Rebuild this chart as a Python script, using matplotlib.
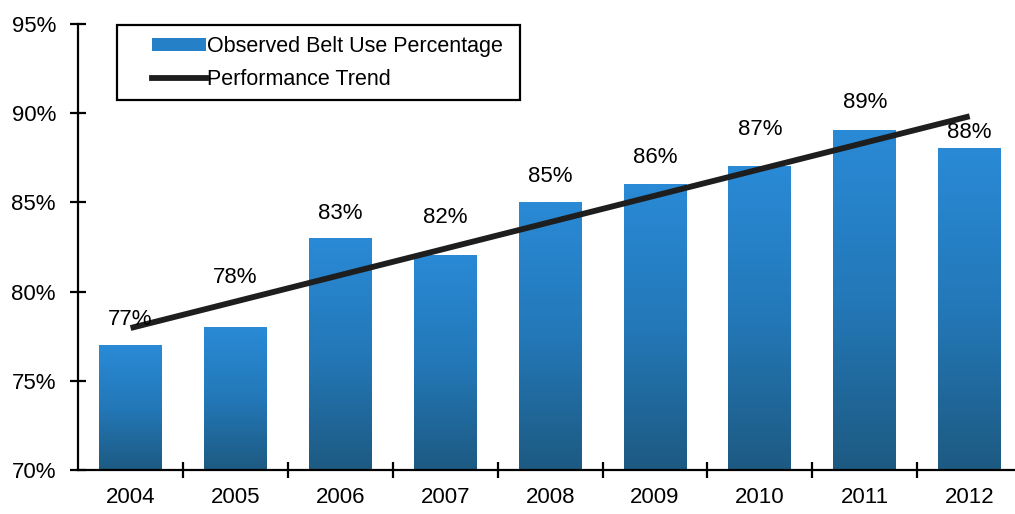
import numpy as np
import matplotlib.pyplot as plt
from matplotlib.colors import LinearSegmentedColormap
from matplotlib.patches import Patch, Rectangle
from matplotlib.lines import Line2D

plt.rcParams['font.family'] = ['Liberation Sans', 'DejaVu Sans']

years = ['2004', '2005', '2006', '2007', '2008', '2009', '2010', '2011', '2012']
belt_use = [77, 78, 83, 82, 85, 86, 87, 89, 88]
y_ticks = [70, 75, 80, 85, 90, 95]

# how far (pixels) each value label sits above its bar, nudged clear of the trend line
label_lift = [26, 50, 25, 38, 26, 27, 37, 28, 16]

x = np.arange(len(years))
bar_w = 0.6
fs = 16

# least-squares trend through the observed values
slope, intercept = np.polyfit(x, belt_use, 1)
trend = slope * x + intercept

fig = plt.figure(figsize=(10.15, 5.14), dpi=100)
ax = fig.add_axes([0.077, 0.0856, 0.93, 0.868])

# vertical gradient fill for each bar: light blue at top, darker at base
cmap = LinearSegmentedColormap.from_list('belt', ['#1d5a82', '#2378b8', '#2a8ad6'])
grad = np.linspace(0, 1, 256).reshape(-1, 1)
for xi, v, lift in zip(x, belt_use, label_lift):
    ax.imshow(grad, cmap=cmap, origin='lower', aspect='auto',
              extent=[xi - bar_w / 2, xi + bar_w / 2, 70, v], zorder=2)
    ax.annotate(f'{v}%', (xi, v), xytext=(0, lift), textcoords='offset pixels',
                ha='center', va='center', fontsize=fs, zorder=4)

ax.plot(x, trend, color='#1e1e1e', lw=4.2, solid_capstyle='butt', zorder=3)

ax.set_xlim(-0.5, 8.5)
ax.set_ylim(70, 95)
ax.set_yticks(y_ticks)
ax.set_yticklabels([f'{t}%' for t in y_ticks], fontsize=fs)
ax.set_xticks(x)
ax.set_xticklabels(years, fontsize=fs)
ax.set_xticks(np.arange(0.5, len(years) - 0.5, 1), minor=True)

ax.spines['top'].set_visible(False)
ax.spines['right'].set_visible(False)
for s in ('left', 'bottom'):
    ax.spines[s].set_linewidth(1.6)
ax.tick_params(axis='y', direction='inout', length=12, width=1.6, pad=10)
ax.tick_params(axis='x', which='major', length=0, pad=12)
ax.tick_params(axis='x', which='minor', direction='inout', length=12, width=1.6)

# legend box drawn separately so the entries can sit inset from its left edge
ax.add_patch(Rectangle((0.041, 0.83), 0.427, 0.168, transform=ax.transAxes,
                       facecolor='white', edgecolor='black', lw=1.6,
                       zorder=5, clip_on=False))
handles = [Patch(facecolor='#2680c8', edgecolor='none'),
           Line2D([0], [0], color='#1e1e1e', lw=4.2)]
leg = ax.legend(handles, ['Observed Belt Use Percentage', 'Performance Trend'],
                loc='upper left', bbox_to_anchor=(0.078, 0.972), fontsize=15.5,
                frameon=False, handlelength=2.5, handleheight=0.55,
                handletextpad=0.05, borderpad=0.0, borderaxespad=0.0,
                labelspacing=0.55)
leg.set_zorder(6)

fig.savefig('out.png', dpi=100)
